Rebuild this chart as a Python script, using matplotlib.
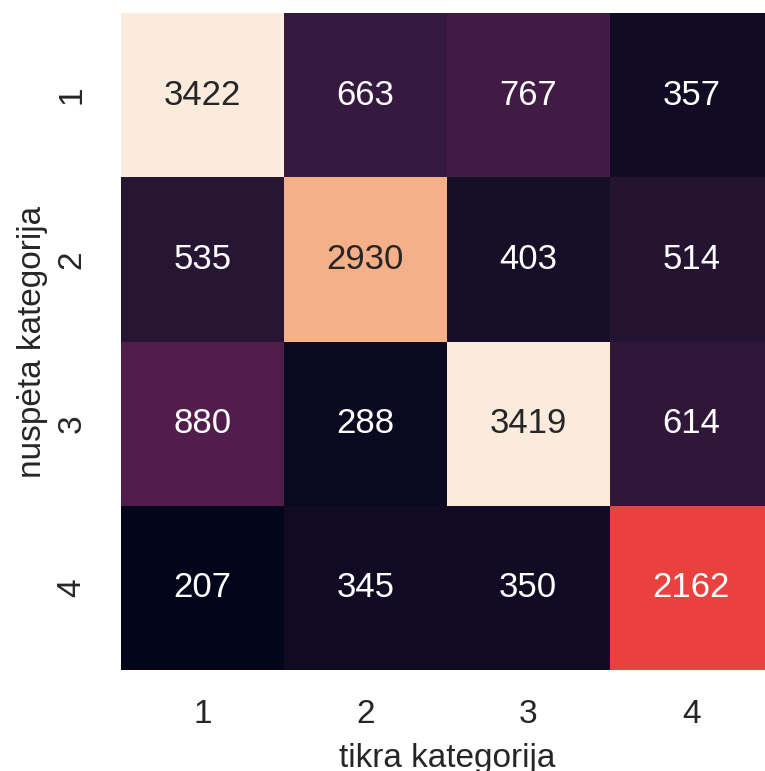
import matplotlib
matplotlib.use("Agg")
import matplotlib.pyplot as plt
import numpy as np
import seaborn as sns

labels = ["1", "2", "3", "4"]
# rows: predicted category, columns: true category
confusion = [
    [3422, 663, 767, 357],
    [535, 2930, 403, 514],
    [880, 288, 3419, 614],
    [207, 345, 350, 2162],
]

sns.set_theme(style="white")
plt.rcParams["font.family"] = ["Liberation Sans", "DejaVu Sans"]

fig = plt.figure(figsize=(7.65, 7.71), dpi=100)
ax = fig.add_axes([0.158, 0.131, 0.852, 0.852])
sns.heatmap(np.array(confusion), annot=True, fmt="d", cmap="rocket", cbar=False,
            xticklabels=labels, yticklabels=labels, ax=ax,
            annot_kws={"fontsize": 25})
ax.set_xlabel("tikra kategorija", fontsize=24, labelpad=9)
ax.set_ylabel("nuspėta kategorija", fontsize=24, labelpad=6)
ax.tick_params(axis="x", labelsize=24, length=0, pad=21)
ax.tick_params(axis="y", labelsize=24, length=0, pad=24)
plt.setp(ax.get_yticklabels(), rotation=90, va="center")

fig.savefig("out.png", dpi=100)
